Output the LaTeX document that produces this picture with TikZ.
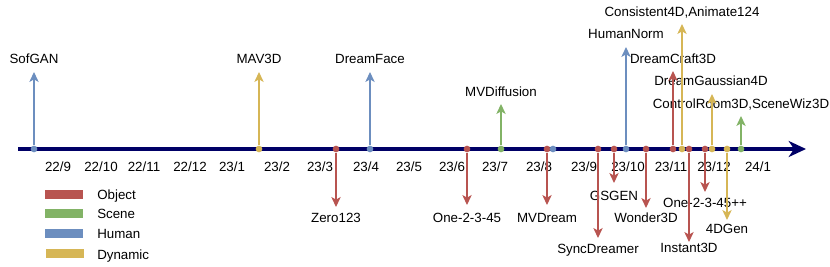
\documentclass[tikz,border=0pt]{standalone}
\usepackage{fontspec}
\setmainfont{Liberation Sans}
\usepackage{xcolor}
\usetikzlibrary{arrows.meta,positioning}
\definecolor{objcol}{HTML}{B85450}
\definecolor{scncol}{HTML}{82B366}
\definecolor{humcol}{HTML}{6C8EBF}
\definecolor{dyncol}{HTML}{D6B656}
\definecolor{axiscol}{HTML}{000066}

\begin{document}
\begin{tikzpicture}[
    x=0.75pt, y=-0.75pt,
    font=\fontsize{10}{12}\selectfont,
    timeline/.style={line width=2.6pt, axiscol, -{Stealth[length=13pt,width=12pt,inset=4pt]}},
    event/.style={line width=0.9pt, -{Stealth[length=7.5pt,width=7pt,inset=2pt]}},
    evdot/.style={circle, fill, inner sep=0pt, minimum size=5pt},
    lbl/.style={anchor=base, inner sep=0pt},
    month/.style={anchor=base, inner sep=0pt},
    legbar/.style={rectangle, inner sep=0pt, minimum width=28.5pt, minimum height=6.75pt},
    legtext/.style={anchor=base west, inner sep=0pt}
]
\useasboundingbox (0,0) rectangle (830,267);

% Timeline
\coordinate (start) at (18,149);
\coordinate (end) at (806,149);
\draw[timeline] (start) -- (end);

% Months
\node[month] (m2209) at (58,171) {22/9};
\node[month] (m2210) at (101,171) {22/10};
\node[month] (m2211) at (144,171) {22/11};
\node[month] (m2212) at (190,171) {22/12};
\node[month] (m2301) at (232,171) {23/1};
\node[month] (m2302) at (277,171) {23/2};
\node[month] (m2303) at (320,171) {23/3};
\node[month] (m2304) at (366,171) {23/4};
\node[month] (m2305) at (409,171) {23/5};
\node[month] (m2306) at (452,171) {23/6};
\node[month] (m2307) at (495,171) {23/7};
\node[month] (m2308) at (539,171) {23/8};
\node[month] (m2309) at (584,171) {23/9};
\node[month] (m2310) at (628,171) {23/10};
\node[month] (m2311) at (671,171) {23/11};
\node[month] (m2312) at (714,171) {23/12};
\node[month] (m2401) at (758,171) {24/1};

% Upward events
\node[evdot, humcol] (sofganD) at (34,149) {}; \coordinate (sofganT) at (34,72);
\node[lbl] (sofgan) at (34,64) {SofGAN};
\node[evdot, dyncol] (mavD) at (259,149) {}; \coordinate (mavT) at (259,72);
\node[lbl] (mav) at (259,64) {MAV3D};
\node[evdot, humcol] (dfaceD) at (370,149) {}; \coordinate (dfaceT) at (370,72);
\node[lbl] (dface) at (370,64) {DreamFace};
\node[evdot, scncol] (mvdiffD) at (501,149) {}; \coordinate (mvdiffT) at (501,104);
\node[lbl] (mvdiff) at (501,97) {MVDiffusion};
\node[evdot, humcol] (hnormD) at (626,149) {}; \coordinate (hnormT) at (626,47);
\node[lbl] (hnorm) at (626,39) {HumanNorm};
\node[evdot, objcol] (dcraftD) at (673,149) {}; \coordinate (dcraftT) at (673,71);
\node[lbl] (dcraft) at (673,64) {DreamCraft3D};
\node[evdot, dyncol] (consD) at (682,149) {}; \coordinate (consT) at (682,24);
\node[lbl] (cons) at (682,17) {Consistent4D,Animate124};
\node[evdot, dyncol] (dgaussD) at (712,149) {}; \coordinate (dgaussT) at (712,94);
\node[lbl] (dgauss) at (711,86) {DreamGaussian4D};
\node[evdot, scncol] (croomD) at (741,149) {}; \coordinate (croomT) at (741,116);
\node[lbl] (croom) at (741,109) {ControlRoom3D,SceneWiz3D};

% Downward events
\node[evdot, objcol] (zeroD) at (336,149) {}; \coordinate (zeroT) at (336,207);
\node[lbl] (zero) at (336,222) {Zero123};
\node[evdot, objcol] (otfD) at (467,149) {}; \coordinate (otfT) at (467,205);
\node[lbl] (otf) at (467,222) {One-2-3-45};
\node[evdot, objcol] (mvdreamD) at (547,149) {}; \coordinate (mvdreamT) at (547,205);
\node[lbl] (mvdream) at (547,222) {MVDream};
\node[evdot, objcol] (syncD) at (598,149) {}; \coordinate (syncT) at (598,238);
\node[lbl] (sync) at (598,253) {SyncDreamer};
\node[evdot, objcol] (gsgenD) at (614,149) {}; \coordinate (gsgenT) at (614,183);
\node[lbl] (gsgen) at (614,200) {GSGEN};
\node[evdot, objcol] (wonderD) at (646,149) {}; \coordinate (wonderT) at (646,208);
\node[lbl] (wonder) at (646,222) {Wonder3D};
\node[evdot, objcol] (instD) at (689,149) {}; \coordinate (instT) at (689,242);
\node[lbl] (inst) at (689,252) {Instant3D};
\node[evdot, objcol] (otfppD) at (705,149) {}; \coordinate (otfppT) at (705,192);
\node[lbl] (otfpp) at (705,207) {One-2-3-45++};
\node[evdot, dyncol] (fourdD) at (727,149) {}; \coordinate (fourdT) at (727,220);
\node[lbl] (fourd) at (727,233) {4DGen};
\node[evdot, humcol] (extraD) at (553,149) {};

% Arrows
\draw[event, humcol] (sofganD) -- (sofganT);
\draw[event, dyncol] (mavD) -- (mavT);
\draw[event, humcol] (dfaceD) -- (dfaceT);
\draw[event, scncol] (mvdiffD) -- (mvdiffT);
\draw[event, humcol] (hnormD) -- (hnormT);
\draw[event, objcol] (dcraftD) -- (dcraftT);
\draw[event, dyncol] (consD) -- (consT);
\draw[event, dyncol] (dgaussD) -- (dgaussT);
\draw[event, scncol] (croomD) -- (croomT);
\draw[event, objcol] (zeroD) -- (zeroT);
\draw[event, objcol] (otfD) -- (otfT);
\draw[event, objcol] (mvdreamD) -- (mvdreamT);
\draw[event, objcol] (syncD) -- (syncT);
\draw[event, objcol] (gsgenD) -- (gsgenT);
\draw[event, objcol] (wonderD) -- (wonderT);
\draw[event, objcol] (instD) -- (instT);
\draw[event, objcol] (otfppD) -- (otfppT);
\draw[event, dyncol] (fourdD) -- (fourdT);

% Legend
\node[legbar, fill=objcol] (objbar) at (64,194) {};
\node[legbar, fill=scncol] (scnbar) at (64,213) {};
\node[legbar, fill=humcol] (humbar) at (64,233) {};
\node[legbar, fill=dyncol] (dynbar) at (65,253) {};
\node[legtext] (objtext) at (97,199) {Object};
\node[legtext] (scntext) at (97,218) {Scene};
\node[legtext] (humtext) at (97,238) {Human};
\node[legtext] (dyntext) at (97,259) {Dynamic};

\end{tikzpicture}
\end{document}
